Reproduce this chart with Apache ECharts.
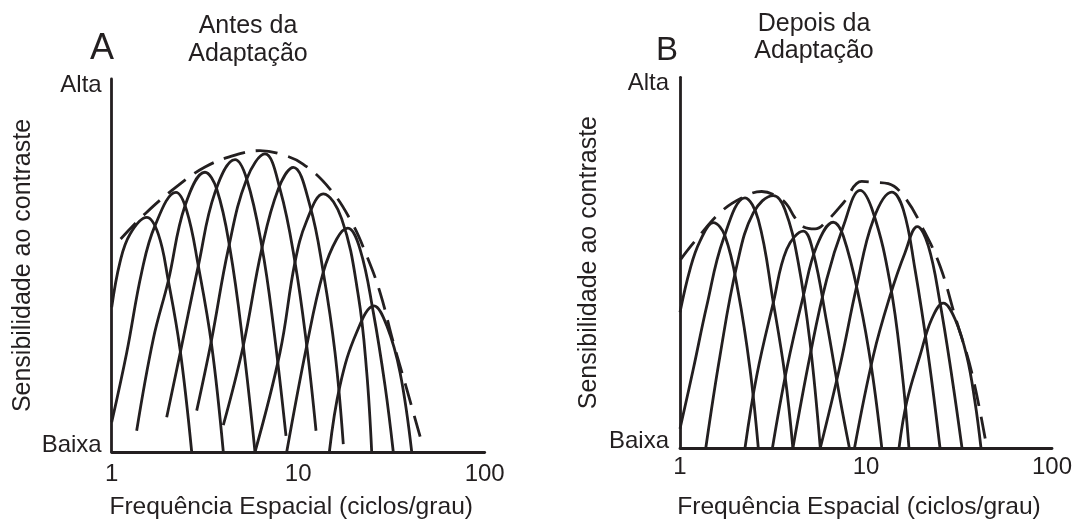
<!DOCTYPE html>
<html>
<head>
<meta charset="utf-8">
<script src="https://cdn.jsdelivr.net/npm/echarts@6/dist/echarts.min.js"></script>
<style>
  html, body { margin: 0; padding: 0; background: #ffffff; }
  #chart { width: 1076px; height: 525px; }
</style>
</head>
<body>
<div id="chart"></div>
<script>
// ---------- Data (frequency in cycles/degree, sensitivity 0 = Baixa .. 100 = Alta) ----------
const freqTicks = [1, 10, 100];
const levelTicks = [0, 100];
const levelNames = ['Baixa', 'Alta'];

const panelTitles = ['Antes da\nAdaptação', 'Depois da\nAdaptação'];
const panelLetters = ['A', 'B'];
const xName = 'Frequência Espacial (ciclos/grau)';
const yName = 'Sensibilidade ao contraste';

// Panel A: channels before adaptation
const antes1 = [[1.00, 38.8], [1.108, 50.9], [1.253, 58.4], [1.541, 62.9], [1.778, 58.4], [2.012, 45.9], [2.324, 27.6], [2.685, 0]];
const antes2 = [[1.00, 8.0], [1.204, 26.7], [1.448, 48.2], [1.707, 60.7], [2.212, 69.6], [2.524, 64.7], [2.913, 49.9], [3.438, 28.5], [3.967, 0]];
const antes3 = [[1.361, 5.7], [1.671, 30.3], [2.012, 45.9], [2.472, 66.0], [3.164, 75.0], [3.656, 70.5], [4.309, 54.4], [5.077, 28.5], [5.867, 0]];
const antes4 = [[1.972, 9.3], [2.373, 28.5], [2.913, 49.9], [3.580, 69.6], [4.583, 78.4], [5.296, 73.2], [6.374, 55.3], [7.355, 33.9], [8.602, 4.3]];
const antes5 = [[2.856, 11.1], [3.438, 30.3], [4.219, 54.4], [5.296, 73.2], [6.637, 79.9], [7.989, 70.5], [9.612, 50.9], [11.11, 28.5], [12.46, 5.7]];
const antes6 = [[3.967, 7.2], [5.077, 28.5], [6.374, 54.4], [7.823, 70.5], [9.413, 76.3], [11.57, 66.0], [13.63, 48.2], [15.75, 26.7], [17.45, 2.1]];
const antes7 = [[5.867, 0], [7.989, 26.7], [9.612, 50.9], [11.11, 62.0], [13.63, 69.2], [17.11, 62.5], [21.01, 41.9], [23.30, 21.4], [24.78, 0]];
const antes8 = [[8.676, 0], [11.11, 28.5], [13.63, 48.2], [16.09, 57.1], [18.43, 60.0], [21.45, 54.4], [25.27, 37.5], [29.21, 17.8], [32.35, 0]];
const antes9 = [[14.69, 0], [16.75, 17.8], [20.59, 32.1], [25.49, 39.2], [29.83, 33.9], [35.14, 21.4], [40.62, 0]];
const antesEnvelope = [[1.117, 57.1], [1.527, 64.1], [2.212, 71.0], [3.164, 76.4], [4.583, 79.6], [6.241, 80.8], [7.989, 79.9], [10.61, 77.2], [14.81, 70.5], [19.36, 61.6], [23.30, 52.6], [27.46, 42.8], [32.35, 29.4], [38.17, 16.9], [45.94, 2.6]];

// Panel B: channels after adaptation
const depois1 = [[1.00, 36.6], [1.132, 48.2], [1.281, 55.8], [1.510, 60.8], [1.746, 57.2], [2.058, 41.9], [2.379, 21.3], [2.636, 0]];
const depois2 = [[1.00, 5.2], [1.179, 21.3], [1.392, 38.3], [1.709, 56.3], [2.236, 67.5], [2.636, 61.6], [3.175, 39.2], [3.669, 19.5], [4.046, 0]];
const depois3 = [[1.376, 0], [1.641, 24.9], [2.018, 49.1], [2.478, 63.4], [3.175, 68.1], [3.669, 64.3], [4.325, 50.0], [5.000, 28.5], [5.679, 0]];
const depois4 = [[2.236, 0], [2.585, 19.5], [3.175, 39.2], [3.748, 53.6], [4.601, 58.5], [5.209, 52.7], [6.148, 33.9], [7.249, 13.3], [8.143, 0]];
const depois5 = [[3.140, 0], [3.748, 21.3], [4.601, 41.0], [5.432, 54.5], [6.672, 60.9], [7.551, 57.2], [9.284, 39.2], [10.73, 21.3], [12.16, 0]];
const depois6 = [[4.046, 0], [5.000, 24.9], [6.148, 45.5], [7.551, 59.8], [9.284, 69.5], [10.95, 63.4], [13.46, 44.6], [15.56, 21.3], [17.02, 0]];
const depois7 = [[5.679, 0], [7.249, 22.2], [8.913, 43.7], [10.95, 61.6], [13.75, 69.0], [15.87, 64.3], [18.34, 48.2], [21.63, 24.9], [25.0, 0]];
const depois8 = [[8.674, 0], [10.95, 24.9], [13.46, 41.0], [16.21, 52.7], [18.87, 59.7], [21.63, 54.5], [25.0, 39.2], [28.90, 19.5], [32.82, 0]];
const depois9 = [[15.05, 0], [16.55, 12.4], [19.51, 24.9], [22.56, 34.8], [26.04, 39.1], [30.09, 34.8], [34.78, 24.9], [38.55, 12.4], [41.52, 0]];
const depoisEnvelope = [[1.009, 50.9], [1.204, 55.8], [1.676, 63.9], [2.236, 67.9], [2.750, 69.2], [3.311, 67.9], [3.748, 65.7], [4.153, 62.1], [4.601, 59.7], [5.319, 59.1], [6.148, 61.2], [7.551, 66.1], [9.482, 71.9], [10.95, 71.7], [13.18, 71.3], [16.21, 67.5], [20.32, 59.0], [25.0, 49.1], [30.09, 35.6], [37.0, 20.4], [44.56, 0.3]];

const panelCurves = [
  [antes1, antes2, antes3, antes4, antes5, antes6, antes7, antes8, antes9],
  [depois1, depois2, depois3, depois4, depois5, depois6, depois7, depois8, depois9]
];
const panelEnvelopes = [antesEnvelope, depoisEnvelope];

// ---------- Styling / layout ----------
const INK = '#231f20';
const FONT = '"Liberation Sans", Arial, Helvetica, sans-serif';
const LW = 2.8;
const grids = [
  { left: 111.7, top: 79, width: 373, height: 374 },
  { left: 680, top: 77.3, width: 372, height: 372 }
];
const xLabelMargin = [10, 7];
const xNameGap = [43, 47];
const yLabelMargin = [10, 11];
const yNameGap = [76, 78];
const titlePos = [{ left: 248, top: 12.4, lh: 28 }, { left: 814, top: 10.4, lh: 27 }];
const letterPos = [{ left: 90, top: 31, size: 36 }, { left: 656, top: 34.5, size: 33 }];

const chart = echarts.init(document.getElementById('chart'), null, { renderer: 'canvas' });

const xAxes = [0, 1].map(i => ({
  type: 'log', logBase: 10, min: freqTicks[0], max: freqTicks[freqTicks.length - 1], gridIndex: i,
  axisLine: { show: true, onZero: false, lineStyle: { color: INK, width: LW } },
  axisTick: { show: false }, splitLine: { show: false }, minorTick: { show: false },
  axisLabel: { color: INK, fontSize: 24, fontFamily: FONT, margin: xLabelMargin[i], formatter: v => String(v) },
  name: xName, nameLocation: 'middle', nameGap: xNameGap[i],
  nameTextStyle: { color: INK, fontSize: 24.6, fontFamily: FONT, padding: [0, 14, 0, 0] }
}));

const yAxes = [0, 1].map(i => ({
  type: 'value', min: levelTicks[0], max: levelTicks[1], interval: levelTicks[1] - levelTicks[0], gridIndex: i,
  axisLine: { show: true, lineStyle: { color: INK, width: LW } },
  axisTick: { show: false }, splitLine: { show: false },
  axisLabel: {
    margin: yLabelMargin[i], color: INK, fontSize: 24, fontFamily: FONT,
    formatter: v => v === levelTicks[0] ? '{lo|' + levelNames[0] + '}' : '{hi|' + levelNames[1] + '}',
    rich: {
      lo: { color: INK, fontSize: 24, fontFamily: FONT, padding: [0, 0, 14, 0] },
      hi: { color: INK, fontSize: 24, fontFamily: FONT, padding: [12, 0, 0, 0] }
    }
  },
  name: yName, nameLocation: 'middle', nameRotate: 90, nameGap: yNameGap[i],
  nameTextStyle: { color: INK, fontSize: 25, fontFamily: FONT }
}));

const series = [];
[0, 1].forEach(i => {
  panelCurves[i].forEach((curve, k) => {
    series.push({
      type: 'line', name: panelLetters[i] + (k + 1), xAxisIndex: i, yAxisIndex: i,
      data: curve, smooth: 0.4, symbol: 'none', showSymbol: false, silent: true,
      lineStyle: { color: INK, width: LW }, animation: false
    });
  });
  series.push({
    type: 'line', name: panelLetters[i] + ' envelope', xAxisIndex: i, yAxisIndex: i,
    data: panelEnvelopes[i], smooth: 0.4, symbol: 'none', showSymbol: false, silent: true,
    lineStyle: { color: INK, width: LW, type: [22, 11] }, animation: false
  });
});

const titles = [];
[0, 1].forEach(i => {
  titles.push({
    text: panelTitles[i], left: titlePos[i].left, top: titlePos[i].top, textAlign: 'center', padding: 0,
    textStyle: { color: INK, fontSize: 25, fontWeight: 'normal', fontFamily: FONT, lineHeight: titlePos[i].lh }
  });
  titles.push({
    text: panelLetters[i], left: letterPos[i].left, top: letterPos[i].top, padding: 0,
    textStyle: { color: INK, fontSize: letterPos[i].size, fontWeight: 'normal', fontFamily: FONT, lineHeight: letterPos[i].size }
  });
});

chart.setOption({
  backgroundColor: '#ffffff',
  animation: false,
  title: titles,
  grid: grids,
  xAxis: xAxes,
  yAxis: yAxes,
  series: series
});
</script>
</body>
</html>
